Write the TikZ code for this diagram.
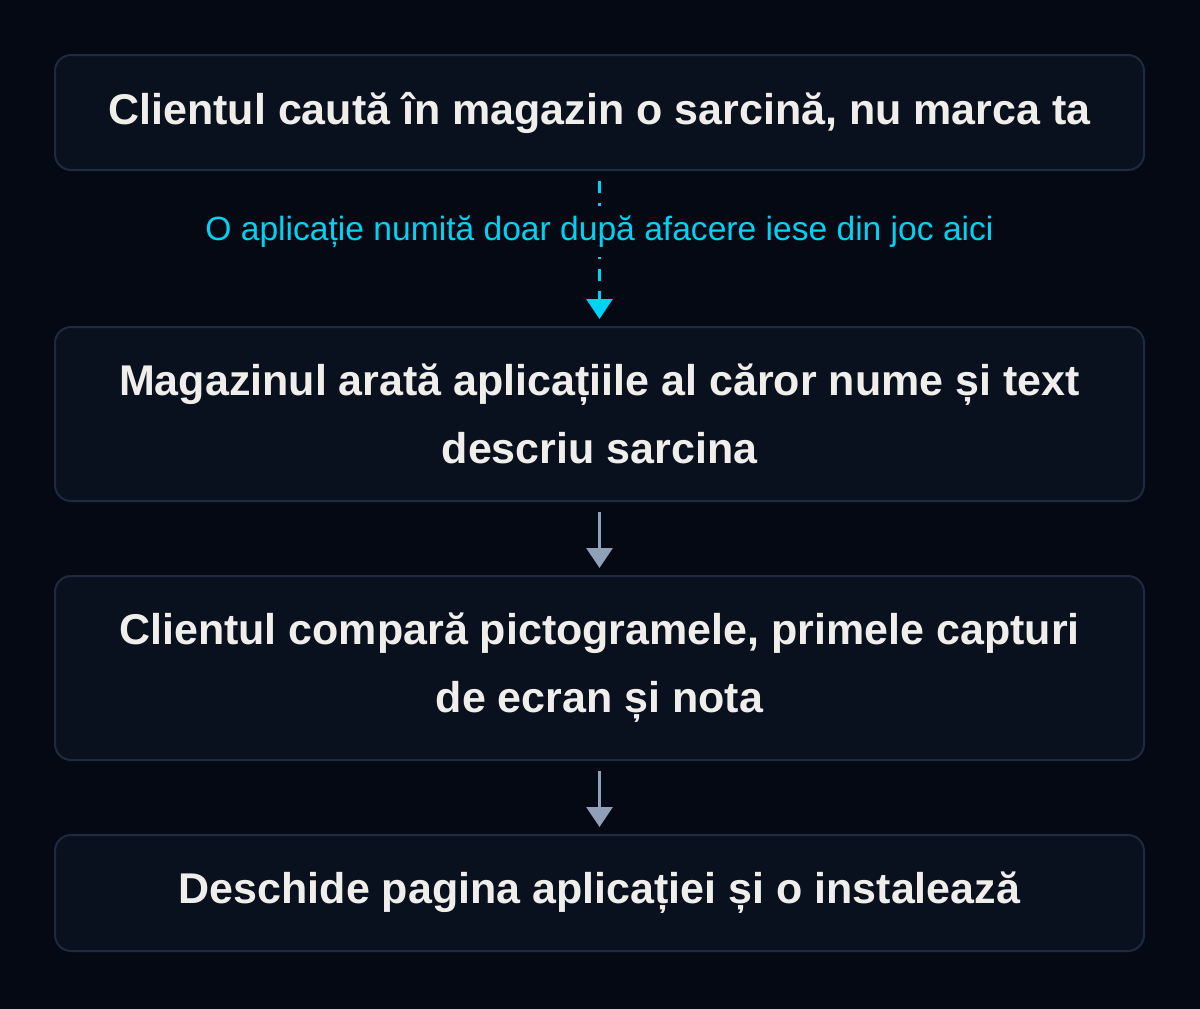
\documentclass[tikz,border=0pt]{standalone}
\usepackage{fontspec}
\setmainfont{Liberation Sans}
\usetikzlibrary{arrows.meta}
\definecolor{bgcolor}{HTML}{050913}
\definecolor{boxfill}{HTML}{0A111E}
\definecolor{boxline}{HTML}{1E2A40}
\definecolor{boxtext}{HTML}{F0EEEA}
\definecolor{notecyan}{HTML}{00D2F5}
\definecolor{arrowgray}{HTML}{8FA0B8}
\begin{document}
\begin{tikzpicture}
[x=0.5pt,y=-0.5pt,
  stepdecorate/.style={shape=rectangle,rounded corners=8pt,draw=boxline,line width=1pt,
    fill=boxfill,text=boxtext,align=center,minimum width=544.5pt,
    font=\bfseries\fontsize{21.5}{34}\selectfont},%
  arrowdecorate/.style={-{Triangle[width=13pt,length=10pt]},line width=1.4pt,color=arrowgray,
    shorten <=5pt,shorten >=3.5pt},%
  dashdecorate/.style={arrowdecorate,color=notecyan,dash pattern=on 6pt off 5pt},%
  notedecorate/.style={fill=bgcolor,text=notecyan,inner xsep=2pt,inner ysep=5pt,
    font=\fontsize{16.8}{19}\selectfont}]
\useasboundingbox (0,0) rectangle (1200,1008);
\fill[bgcolor] (-10,-10) rectangle (1210,1018);
%%% steps of the search
% boxes
\node (s1) at (599.5,112.5) [stepdecorate,minimum height=57.5pt] {Clientul caută în magazin o sarcină, nu marca ta};
\node (s2) at (599.5,414) [stepdecorate,minimum height=87pt] {Magazinul arată aplicațiile al căror nume și text\\descriu sarcina};
\node (s3) at (599.5,668) [stepdecorate,minimum height=92pt] {Clientul compară pictogramele, primele capturi\\de ecran și nota};
\node (s4) at (599.5,893) [stepdecorate,minimum height=58pt] {Deschide pagina aplicației și o instalează};
% arrows
\path
(s1) edge[dashdecorate] node {} (s2)
(s2) edge[arrowdecorate] node {} (s3)
(s3) edge[arrowdecorate] node {} (s4);
% label over the dashed arrow
\path (s1) -- node[notedecorate,pos=0.39] {O aplicație numită doar după afacere iese din joc aici} (s2);
\end{tikzpicture}
\end{document}
